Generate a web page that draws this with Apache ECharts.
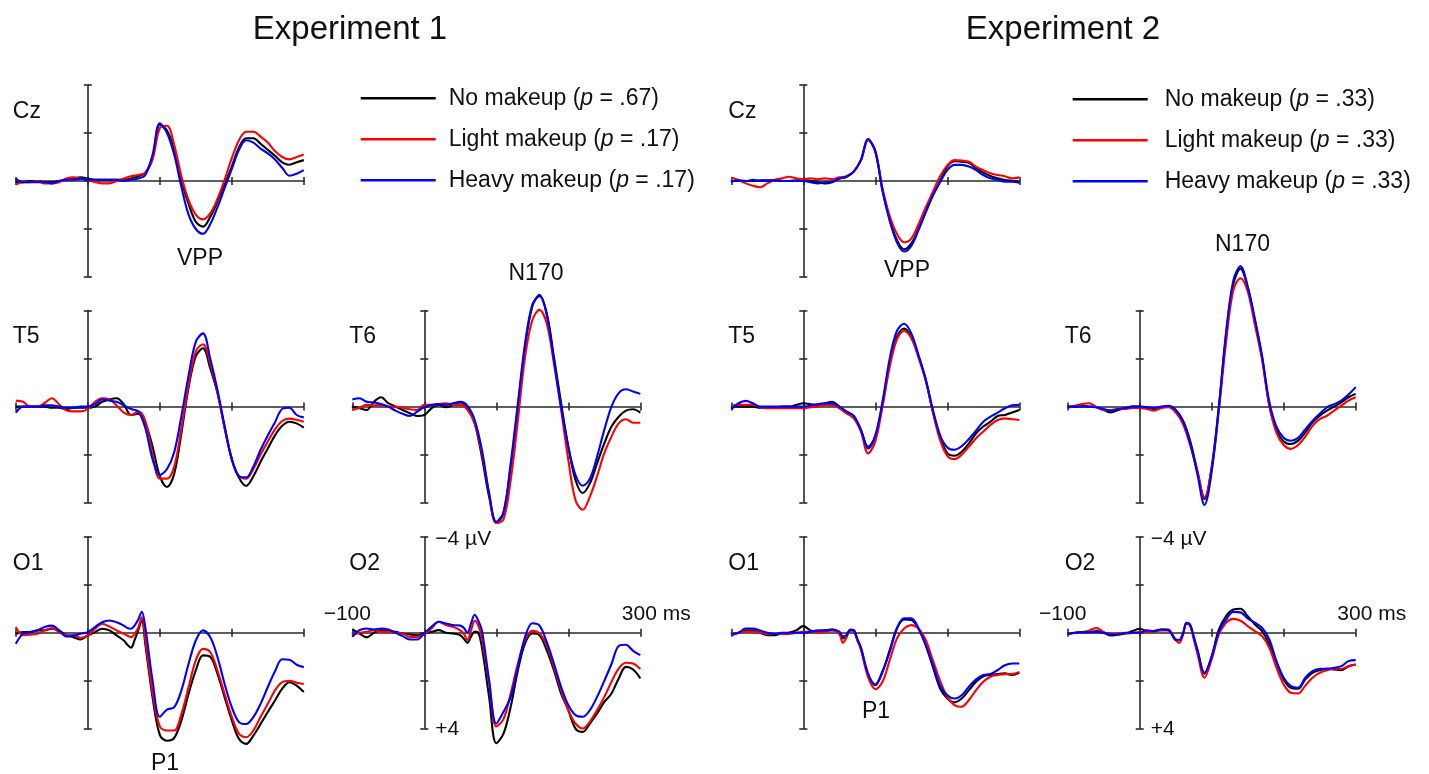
<!DOCTYPE html>
<html><head><meta charset="utf-8">
<script src="https://cdn.jsdelivr.net/npm/echarts@6/dist/echarts.min.js"></script>
<style>html,body{margin:0;padding:0;background:#fff}#c{width:1429px;height:774px}</style>
</head><body><div id="c"></div>
<script>
const FONT = "'Liberation Sans', Arial, Helvetica, sans-serif";
const expTitles = ['Experiment 1', 'Experiment 2'];
const condNames1 = ['No makeup (p = .67)', 'Light makeup (p = .17)', 'Heavy makeup (p = .17)'];
const condNames2 = ['No makeup (p = .33)', 'Light makeup (p = .33)', 'Heavy makeup (p = .33)'];
const condColors = ['#000000', '#ff0000', '#0000ff'];
const axisTextX = ['\u2212100', '300 ms'];
const axisTextY = ['\u22124 \u00b5V', '+4'];
const componentNames = ['VPP', 'N170', 'P1'];

const timeMs = [-100,-90,-80,-70,-60,-50,-40,-30,-20,-10,0,10,20,30,40,50,60,70,80,90,100,110,120,130,140,150,160,170,180,190,200,210,220,230,240,250,260,270,280,290,300];
const timeMsOcc = [-100,-90,-80,-70,-60,-50,-40,-30,-20,-10,0,10,20,30,40,50,55,60,65,70,75,80,90,100,110,120,130,140,150,160,170,180,190,200,210,220,230,240,250,260,270,280,290,300];

// Experiment 1 (µV, negative up)
const e1CzNo    = [0.05,0.05,0,0,0.05,0.05,0,-0.05,-0.1,-0.15,-0.1,-0.05,-0.05,-0.05,-0.05,-0.05,-0.1,-0.2,-0.35,-1.0,-2.35,-2.1,-1.3,0,0.95,1.7,1.9,1.5,0.86,0.15,-0.6,-1.4,-1.78,-1.78,-1.55,-1.3,-1.05,-0.78,-0.68,-0.78,-0.87];
const e1CzLight = [0.15,0.05,0.05,0,0.1,0.1,0.05,-0.1,-0.15,-0.1,-0.05,0.05,0.1,0.1,0,-0.1,-0.2,-0.25,-0.35,-0.9,-2.2,-2.3,-1.5,-0.2,0.8,1.4,1.6,1.35,0.75,-0.05,-0.95,-1.7,-2.05,-2.05,-1.85,-1.6,-1.25,-1.0,-0.9,-1.0,-1.1];
const e1CzHeavy = [-0.1,0.05,0.05,0.05,0.05,0.1,0,-0.05,-0.05,-0.1,-0.05,-0.05,-0.05,-0.05,-0.05,0,-0.05,-0.1,-0.25,-1.1,-2.4,-2.0,-1.1,0.25,1.4,2.0,2.2,1.8,1.1,0.3,-0.5,-1.3,-1.7,-1.6,-1.35,-1.15,-0.9,-0.55,-0.22,-0.3,-0.45];
const e1T5No    = [0,0,0,0,0,0.05,0.05,0.1,0.05,0.05,0.05,0,-0.2,-0.3,-0.35,-0.1,0.35,0.3,0.7,1.67,2.9,3.35,2.8,1.1,-0.8,-2.1,-2.43,-1.6,-0.58,0.87,2.18,2.96,3.3,2.9,2.3,1.75,1.2,0.8,0.63,0.7,0.88];
const e1T5Light = [-0.25,-0.2,0,0,-0.15,-0.35,-0.1,0.15,0.2,0.2,0.1,-0.2,-0.35,-0.3,-0.05,0.25,0.35,0.2,0.6,2.0,3.0,3.0,2.5,0.9,-0.9,-2.3,-2.6,-1.8,-0.6,0.9,2.2,2.9,3.0,2.6,2.0,1.45,0.95,0.6,0.5,0.55,0.63];
const e1T5Heavy = [0.25,0,0,0,-0.05,-0.05,0,0.05,0.05,0,0,-0.1,-0.3,-0.25,-0.2,-0.05,0.1,0.2,0.9,2.2,2.85,2.6,1.9,0.4,-1.3,-2.7,-3.05,-2.0,-0.7,0.8,2.2,2.9,2.95,2.5,1.8,1.2,0.65,0.1,0.05,0.35,0.45];
const e1T6No    = [0,0.07,0.14,-0.2,-0.39,-0.14,0,0.14,0.28,0.39,0.35,0.07,-0.07,0.03,-0.07,-0.17,0.07,0.7,2.1,3.75,4.85,4.44,2.5,0,-2.5,-4.17,-4.65,-3.9,-2.08,-0.14,1.67,3.06,3.6,3.2,2.36,1.53,0.83,0.42,0.17,0.11,0.25];
const e1T6Light = [0.14,0.05,-0.07,-0.05,-0.07,0,0,0.05,0.11,0.14,-0.07,-0.07,-0.11,-0.14,-0.07,-0.07,0.14,0.7,1.94,3.61,4.85,4.7,3.06,0.56,-2.08,-3.6,-4.03,-3.47,-1.8,0.14,2.22,3.9,4.3,3.75,2.9,1.94,1.25,0.7,0.53,0.67,0.67];
const e1T6Heavy = [-0.3,-0.35,-0.2,-0.17,-0.11,0,0.17,0.3,0.39,0.21,0.03,-0.07,-0.11,-0.07,-0.14,-0.2,-0.03,0.56,1.8,3.61,4.8,4.4,2.36,-0.14,-2.64,-4.24,-4.6,-3.82,-1.94,0,1.67,2.85,3.3,3.0,2.08,0.97,0,-0.56,-0.72,-0.63,-0.53];
const e1O1No    = [0.04,-0.03,-0.03,-0.1,-0.1,-0.17,-0.1,0.11,0.18,0.28,0.11,-0.03,-0.17,-0.1,0.11,0.32,0.5,0.62,0.3,-0.1,-0.52,0.5,2.7,4.25,4.5,4.38,3.65,2.54,1.57,0.94,1.0,1.7,2.68,3.65,4.42,4.63,4.28,3.8,3.3,2.82,2.33,2.06,2.2,2.47];
const e1O1Light = [-0.24,0.1,0.08,0.04,-0.1,-0.2,-0.03,0.1,0.1,0.21,0.11,-0.17,-0.38,-0.26,-0.1,0.04,0.12,0.18,0.05,-0.2,-0.65,0.3,2.5,3.9,4.07,4.07,3.38,2.26,1.15,0.67,0.8,1.57,2.54,3.5,4.2,4.35,4.07,3.5,2.96,2.4,2.06,2.0,2.08,2.13];
const e1O1Heavy = [0.46,0.04,-0.03,-0.1,-0.24,-0.3,-0.1,0.15,0.11,0.04,-0.03,-0.24,-0.44,-0.51,-0.44,-0.3,-0.2,-0.17,-0.3,-0.55,-0.88,-0.2,2.0,3.5,3.2,3.1,2.4,1.29,0.32,-0.1,0.18,1.0,2.13,3.1,3.72,3.8,3.51,2.96,2.26,1.6,1.1,1.12,1.33,1.43];
const e1O2No    = [-0.14,0.03,0.19,0,-0.11,-0.08,-0.04,0.03,0.07,0.1,0.03,-0.04,-0.11,0,0.03,0.1,0.25,0.42,0.15,-0.05,0,0.6,2.67,4.6,4.2,3.08,1.56,0.44,0.03,0.1,0.72,1.56,2.53,3.22,3.99,4.13,3.78,3.36,2.88,2.53,1.9,1.42,1.53,1.9];
const e1O2Light = [0.1,0,-0.04,-0.11,-0.04,-0.04,0,0.03,0.17,0.17,0.06,-0.18,-0.46,-0.32,-0.25,-0.1,0.05,0.3,-0.1,-0.5,-0.3,0.2,2.1,3.9,3.6,2.53,1.28,0.3,-0.08,0.03,0.51,1.42,2.39,3.22,3.78,3.99,3.7,3.22,2.67,2.04,1.49,1.25,1.28,1.51];
const e1O2Heavy = [0.17,-0.11,-0.18,-0.14,-0.18,-0.14,0,0.14,0.28,0.28,0.03,-0.25,-0.46,-0.39,-0.32,-0.3,-0.2,0,-0.4,-0.75,-0.5,-0.1,1.97,3.78,3.29,2.67,1.42,0.17,-0.4,-0.3,0.38,1.28,2.25,3.01,3.43,3.5,3.22,2.67,2.0,1.3,0.55,0.5,0.75,0.93];

// Experiment 2
const e2CzNo    = [0,0,0,0,-0.03,-0.03,-0.03,0,0,-0.03,-0.05,0,0.05,0.1,0.05,-0.1,-0.18,-0.39,-0.87,-1.72,-1.22,0.4,1.6,2.46,2.85,2.6,2.0,1.3,0.6,0,-0.6,-0.83,-0.8,-0.76,-0.53,-0.35,-0.21,-0.11,-0.04,-0.01,0.03];
const e2CzLight = [-0.15,-0.04,0.1,0.2,0.26,0.1,-0.04,-0.11,-0.18,-0.11,-0.07,-0.11,-0.07,-0.11,-0.07,-0.15,-0.2,-0.39,-0.87,-1.7,-1.25,0.3,1.45,2.2,2.55,2.4,1.8,1.1,0.45,-0.2,-0.65,-0.87,-0.85,-0.8,-0.6,-0.45,-0.32,-0.25,-0.2,-0.11,-0.15];
const e2CzHeavy = [0.03,-0.03,0,-0.05,0,0,-0.03,0,0,0,0,0.05,0.1,0.05,0.03,-0.1,-0.18,-0.39,-0.87,-1.75,-1.25,0.4,1.65,2.55,2.94,2.7,2.05,1.3,0.6,0.05,-0.45,-0.67,-0.67,-0.6,-0.45,-0.25,-0.11,-0.04,0.03,0.03,0.07];
const e2T5No    = [0,0,0,0,0.05,0.05,0.05,0,0,-0.07,-0.14,-0.1,-0.07,-0.14,-0.2,0,0.21,0.39,0.97,1.67,1.25,-0.14,-1.8,-2.9,-3.25,-2.9,-2.08,-1.1,0.2,1.25,1.94,2.05,1.88,1.53,1.11,0.83,0.63,0.39,0.35,0.25,0.14];
const e2T5Light = [-0.03,-0.07,-0.07,-0.07,0.03,0.07,0.07,0.07,0.07,0.07,0.07,0.03,0,-0.07,-0.07,0.07,0.28,0.49,1.04,1.95,1.45,0,-1.65,-2.8,-3.15,-2.85,-2.05,-1.1,0.25,1.4,2.05,2.19,2.0,1.67,1.32,1.04,0.76,0.56,0.49,0.53,0.56];
const e2T5Heavy = [0.11,-0.14,-0.24,-0.14,0,0,0,0,0,0,0,-0.05,-0.1,-0.14,-0.14,0,0.21,0.39,0.97,1.75,1.2,-0.2,-2.0,-3.15,-3.45,-3.05,-2.15,-1.15,0.14,1.2,1.7,1.8,1.65,1.35,1.0,0.63,0.42,0.25,0.07,-0.05,-0.07];
const e2T6No    = [0,0,-0.04,0,0.03,0.14,0.24,0.14,0.06,0,0,0.03,0.1,0.03,0,0.14,0.58,1.42,2.67,3.85,2.5,0,-3.0,-5.1,-5.75,-4.97,-3.58,-2.05,-0.05,1.0,1.45,1.56,1.42,1.07,0.65,0.38,0.17,0,-0.18,-0.39,-0.53];
const e2T6Light = [0.06,-0.04,-0.11,-0.14,0.03,0.14,0.14,0.1,0.1,0.06,0.06,0.1,0.17,0.06,0.03,0.24,0.72,1.6,2.67,3.78,2.6,0.15,-2.7,-4.85,-5.35,-4.8,-3.4,-1.95,-0.05,1.1,1.6,1.76,1.6,1.25,0.8,0.52,0.38,0.17,-0.04,-0.25,-0.39];
const e2T6Heavy = [0,0,0,0,0.03,0.1,0.17,0.1,0.06,0,0,0.03,0.06,0,-0.03,0.14,0.6,1.5,2.8,4.1,2.7,0,-3.1,-5.25,-5.85,-5.0,-3.65,-2.1,-0.2,0.85,1.3,1.42,1.3,0.95,0.6,0.3,0.03,-0.1,-0.25,-0.5,-0.81];
const e2O1No    = [0.1,0,-0.1,-0.1,0,0.1,0.1,0.03,0,-0.1,-0.28,-0.1,-0.04,-0.1,-0.14,0.03,0.24,0.1,-0.14,-0.1,0.3,0.65,1.75,2.18,1.63,0.72,-0.18,-0.56,-0.53,-0.18,0.51,1.42,2.32,2.74,2.9,2.74,2.39,2.04,1.81,1.76,1.72,1.69,1.76,1.67];
const e2O1Light = [0.1,0,-0.05,-0.05,0,0.05,0.05,0.05,0.05,0,-0.04,-0.04,0,-0.04,-0.1,0.05,0.42,0.2,-0.1,-0.1,0.3,0.7,1.85,2.35,2.04,1.14,0.24,-0.18,-0.32,-0.18,0.3,1.15,2.0,2.68,3.01,3.08,2.8,2.39,2.04,1.83,1.76,1.72,1.72,1.63];
const e2O1Heavy = [0.05,0,-0.18,-0.18,-0.1,0,0.05,0,0,0,0,-0.04,-0.1,-0.1,-0.14,-0.05,0.15,0.1,-0.1,-0.1,0.25,0.6,1.7,2.15,1.6,0.8,-0.18,-0.6,-0.6,-0.18,0.51,1.35,2.2,2.6,2.74,2.6,2.25,1.94,1.76,1.72,1.55,1.35,1.28,1.28];
const e2O2No    = [0.07,0,-0.03,-0.03,-0.07,0,0.11,0.07,0.03,-0.07,-0.17,-0.07,-0.07,-0.14,-0.14,0.3,0.3,0.05,-0.38,-0.3,0.2,0.7,1.7,0.97,-0.14,-0.7,-0.97,-1.0,-0.69,-0.35,-0.07,0.49,1.25,1.94,2.29,2.33,1.94,1.67,1.56,1.5,1.53,1.56,1.39,1.32];
const e2O2Light = [0.07,0,-0.03,-0.1,-0.2,-0.03,0.07,0.03,0.03,0,-0.03,-0.03,-0.07,-0.1,-0.1,0.3,0.42,0.1,-0.42,-0.3,0.25,0.85,1.87,1.1,0.07,-0.42,-0.58,-0.5,-0.28,-0.07,0.14,0.63,1.46,2.15,2.5,2.53,2.2,1.87,1.67,1.56,1.5,1.5,1.39,1.32];
const e2O2Heavy = [0.03,0,-0.03,-0.03,-0.03,0,0.07,0.07,0,0,0,-0.1,-0.07,-0.14,-0.1,0.28,0.3,0.05,-0.42,-0.35,0.15,0.7,1.67,1.0,-0.05,-0.55,-0.87,-0.85,-0.6,-0.42,-0.21,0.28,1.18,1.87,2.22,2.29,1.87,1.6,1.5,1.5,1.46,1.39,1.18,1.14];

// ---- layout ----
const colAxisX = [87.8, 424.3, 803.3, 1139.7];
const rowZeroY = [181, 406.6, 632.8];
const PX_X = 72;   // px per 100 ms
const PX_Y = 96;   // px per 4 µV
const AXIS_COLOR = '#2a2a2a';
const TEXT_COLOR = '#111';

const panels = [
  {e:0, label:'Cz', c:0, r:0, t:timeMs,    v:[e1CzNo, e1CzLight, e1CzHeavy]},
  {e:0, label:'T5', c:0, r:1, t:timeMs,    v:[e1T5No, e1T5Light, e1T5Heavy]},
  {e:0, label:'T6', c:1, r:1, t:timeMs,    v:[e1T6No, e1T6Light, e1T6Heavy]},
  {e:0, label:'O1', c:0, r:2, t:timeMsOcc, v:[e1O1No, e1O1Light, e1O1Heavy]},
  {e:0, label:'O2', c:1, r:2, t:timeMsOcc, v:[e1O2No, e1O2Light, e1O2Heavy]},
  {e:1, label:'Cz', c:2, r:0, t:timeMs,    v:[e2CzNo, e2CzLight, e2CzHeavy]},
  {e:1, label:'T5', c:2, r:1, t:timeMs,    v:[e2T5No, e2T5Light, e2T5Heavy]},
  {e:1, label:'T6', c:3, r:1, t:timeMs,    v:[e2T6No, e2T6Light, e2T6Heavy]},
  {e:1, label:'O1', c:2, r:2, t:timeMsOcc, v:[e2O1No, e2O1Light, e2O1Heavy]},
  {e:1, label:'O2', c:3, r:2, t:timeMsOcc, v:[e2O2No, e2O2Light, e2O2Heavy]}
];

const grid = [], xAxis = [], yAxis = [], series = [], graphics = [];
const tickStyle = {color: AXIS_COLOR, width: 1.6};

function txt(text, x, y, size, align) {
  graphics.push({
    type: 'text', x: x, y: y, silent: true,
    style: {text: text, font: size + 'px ' + FONT, fill: TEXT_COLOR,
            textAlign: align, align: align, textVerticalAlign: 'middle', verticalAlign: 'middle'}
  });
}

panels.forEach((p, i) => {
  const left = colAxisX[p.c] - PX_X, top = rowZeroY[p.r] - PX_Y;
  grid.push({left: left, top: top, width: PX_X * 4, height: PX_Y * 2, containLabel: false, outerBoundsMode: 'none'});
  const xBase = {gridIndex: i, type: 'value', min: -100, max: 300, interval: 100,
    axisLabel: {show: false}, splitLine: {show: false},
    axisTick: {show: true, inside: false, length: 4, lineStyle: tickStyle}};
  xAxis.push(Object.assign({}, xBase, {position: 'bottom',
    axisLine: {show: true, onZero: true, onZeroAxisIndex: 2 * i, lineStyle: tickStyle}}));
  xAxis.push(Object.assign({}, xBase, {position: 'top',
    axisLine: {show: false, onZero: true, onZeroAxisIndex: 2 * i, lineStyle: tickStyle}}));
  const yBase = {gridIndex: i, type: 'value', inverse: true, min: -4, max: 4, interval: 2,
    axisLabel: {show: false}, splitLine: {show: false},
    axisTick: {show: true, inside: false, length: 4, lineStyle: tickStyle}};
  yAxis.push(Object.assign({}, yBase, {position: 'left',
    axisLine: {show: true, onZero: true, onZeroAxisIndex: 2 * i, lineStyle: tickStyle}}));
  yAxis.push(Object.assign({}, yBase, {position: 'right',
    axisLine: {show: false, onZero: true, onZeroAxisIndex: 2 * i, lineStyle: tickStyle}}));
  const names = p.e === 0 ? condNames1 : condNames2;
  p.v.forEach((vals, k) => {
    series.push({
      type: 'line', name: names[k], xAxisIndex: 2 * i, yAxisIndex: 2 * i,
      data: p.t.map((t, j) => [t, vals[j]]),
      showSymbol: false, symbol: 'none', smooth: 0.35, clip: false,
      lineStyle: {width: 2.1, color: condColors[k]},
      itemStyle: {color: condColors[k]},
      emphasis: {disabled: true}, z: 2 + k
    });
  });
  txt(p.label, left - 3, rowZeroY[p.r] - 69.5, 23, 'left');
});

// titles
txt(expTitles[0], 350, 30, 33, 'center');
txt(expTitles[1], 1063, 30, 33, 'center');
// component labels
txt(componentNames[0], 200, 259, 23, 'center');
txt(componentNames[1], 536, 274, 23, 'center');
txt(componentNames[2], 165, 764, 23, 'center');
txt(componentNames[0], 907, 271, 23, 'center');
txt(componentNames[1], 1242.5, 245, 23, 'center');
txt(componentNames[2], 876, 712, 23, 'center');
// axis value labels on O2 panels
[[424.3, 632.8], [1139.7, 632.8]].forEach(([ax, zy]) => {
  txt(axisTextY[0], ax + 11, zy - 93.5, 21, 'left');
  txt(axisTextY[1], ax + 11, zy + 96, 21, 'left');
  txt(axisTextX[0], ax - 77, zy - 19, 21, 'center');
  txt(axisTextX[1], ax + 232, zy - 19, 21, 'center');
});

const richBase = {fontSize: 23, fontFamily: FONT, color: TEXT_COLOR, lineHeight: 26};
function legendFmt(name) {
  return '{n|' + name.replace('(p =', '(}{i|p}{n| =') + '}';
}
function makeLegend(names, left, top, gap) {
  return {
    data: names, left: left, top: top, orient: 'vertical', icon: 'rect', padding: 0,
    itemWidth: 75, itemHeight: 2.4, itemGap: 15, selectedMode: false,
    formatter: (name) => '{s|}' + legendFmt(name),
    textStyle: Object.assign({}, richBase, {rich: {
      s: Object.assign({}, richBase, {width: gap}),
      n: Object.assign({}, richBase),
      i: Object.assign({}, richBase, {fontStyle: 'italic'})
    }})
  };
}

const chart = echarts.init(document.getElementById('c'), null, {renderer: 'canvas'});
chart.setOption({
  animation: false,
  backgroundColor: '#ffffff',
  textStyle: {fontFamily: FONT},
  legend: [makeLegend(condNames1, 360.7, 85.3, 8), makeLegend(condNames2, 1072.7, 86.3, 12)],
  grid: grid, xAxis: xAxis, yAxis: yAxis, series: series,
  graphic: {elements: graphics}
});
</script>
</body></html>
